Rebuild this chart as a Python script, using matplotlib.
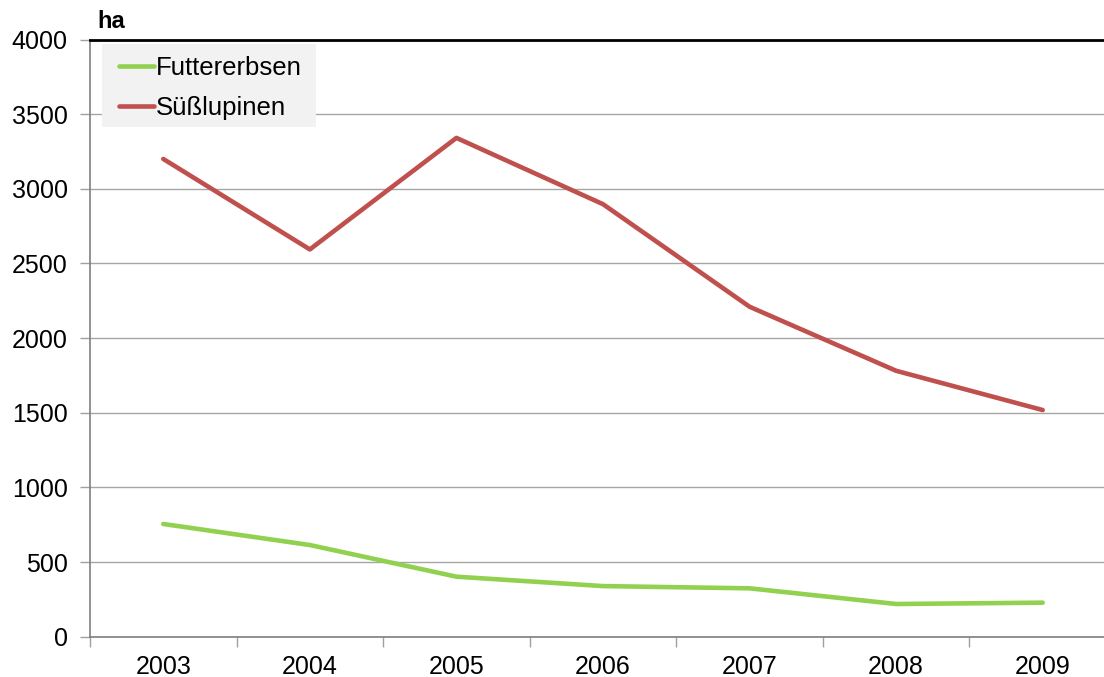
import matplotlib
matplotlib.use("Agg")
import matplotlib.pyplot as plt
from matplotlib.patches import Rectangle
from matplotlib.ticker import FixedLocator, NullFormatter

plt.rcParams['font.family'] = ['Liberation Sans', 'DejaVu Sans']

years = ["2003", "2004", "2005", "2006", "2007", "2008", "2009"]
futtererbsen = [755, 614, 402, 339, 324, 219, 228]
suesslupinen = [3200, 2594, 3341, 2897, 2210, 1781, 1518]
y_ticks = [0, 500, 1000, 1500, 2000, 2500, 3000, 3500, 4000]

W, H = 1104, 677
fig = plt.figure(figsize=(W / 100, H / 100), dpi=100)
ax = fig.add_axes([90 / W, (H - 636.7) / H, 1026 / W, 597.2 / H])

x = list(range(len(years)))
ax.plot(x, futtererbsen, color="#92d050", lw=3.3, label="Futtererbsen",
        solid_capstyle="round", solid_joinstyle="round", zorder=3)
ax.plot(x, suesslupinen, color="#c0504d", lw=3.3, label="Süßlupinen",
        solid_capstyle="round", solid_joinstyle="round", zorder=3)

ax.set_xlim(-0.5, len(years) - 0.5)
ax.set_ylim(0, 4000)
ax.set_yticks(y_ticks)
ax.set_yticklabels([str(v) for v in y_ticks])
ax.yaxis.grid(True, color="#a6a6a6", lw=1.0)
ax.set_axisbelow(True)

# category labels centred, tick marks on the boundaries between categories
ax.xaxis.set_major_locator(FixedLocator([i - 0.5 for i in range(len(years) + 1)]))
ax.xaxis.set_major_formatter(NullFormatter())
ax.xaxis.set_minor_locator(FixedLocator(x))
ax.set_xticklabels(years, minor=True)
ax.tick_params(axis="x", which="major", length=7, width=1, color="#a0a0a0", direction="out")
ax.tick_params(axis="x", which="minor", length=0, labelsize=18, pad=13)
ax.tick_params(axis="y", length=7, width=1, color="#a0a0a0", labelsize=18, pad=9)

for side in ("left", "bottom"):
    ax.spines[side].set_color("#7f7f7f")
    ax.spines[side].set_linewidth(1.2)
ax.spines["top"].set_color("#000000")
ax.spines["top"].set_linewidth(2)
ax.spines["right"].set_visible(False)

fig.text(97 / W, 1 - 21 / H, "ha", fontsize=17, fontweight="bold", va="center", ha="left")

# legend panel with a flat light-grey background
panel = Rectangle((102 / W, 1 - 127 / H), 214 / W, 83 / H, transform=fig.transFigure,
                  facecolor="#f2f2f2", edgecolor="none", zorder=4)
ax.add_artist(panel)
panel.set_clip_on(False)

leg = ax.legend(loc="upper left", bbox_to_anchor=(119 / W, 1 - 56 / H),
                bbox_transform=fig.transFigure, borderaxespad=0,
                fontsize=18.5, handlelength=1.35, handletextpad=0.1,
                labelspacing=0.62, borderpad=0, frameon=False)
leg.set_zorder(5)

fig.savefig("out.png", dpi=100)
